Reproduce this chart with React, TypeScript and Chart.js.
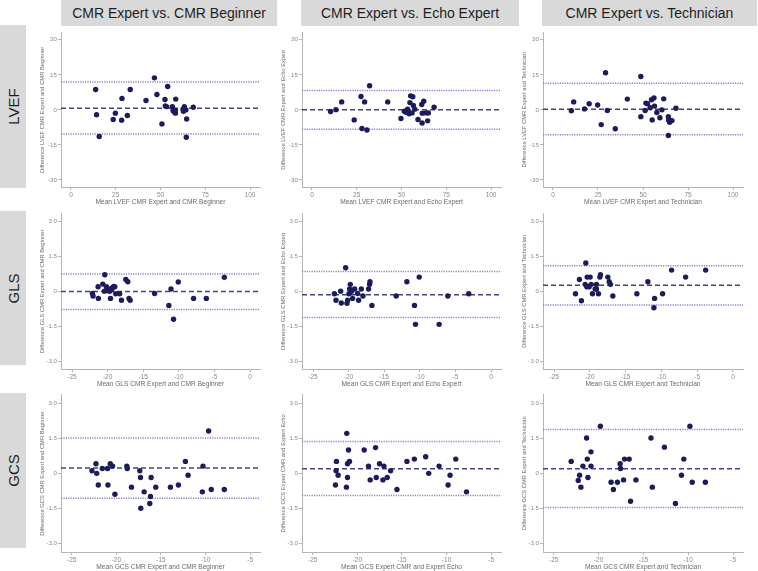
import React, { useEffect, useRef } from "react";
import { Chart, registerables } from "chart.js";
Chart.register(...registerables);

const FONT = "'Liberation Sans', Arial, sans-serif";

const columnTitles = ["CMR Expert vs. CMR Beginner", "CMR Expert vs. Echo Expert", "CMR Expert vs. Technician"];
const rowTitles = ["LVEF", "GLS", "GCS"];

// Axis ticks
const lvefTicksX = [0, 25, 50, 75, 100];
const lvefTicksY = [-30, -15, 0, 15, 30];
const lvefTickLabelsY = ["-30", "-15", "0", "15", "30"];
const glsTicksX = [-25, -20, -15, -10, -5, 0];
const gcsTicksX = [-25, -20, -15, -10, -5];
const strainTicksY = [-3, -1.5, 0, 1.5, 3];
const strainTickLabelsY = ["-3.0", "-1.5", "0", "1.5", "3.0"];

// LVEF – CMR Beginner
const lvefBeginnerMean = [13.8, 14.3, 15.8, 23.6, 24.8, 28.5, 28.3, 31.5, 33.1, 41.9, 46.6, 48.0, 50.8, 52.5, 52.7, 53.4, 54.0, 56.6, 57.0, 57.5, 58.3, 58.3, 58.5, 62.6, 63.3, 63.5, 64.2, 64.6, 64.4, 68.3, 62.8];
const lvefBeginnerDiff = [8.7, -2.1, -11.4, -4.1, -1.4, 4.9, -4.4, -2.4, 8.7, 4.0, 13.7, 6.6, -6.0, 4.4, 1.7, 1.4, 10.0, 1.3, -0.3, -0.7, -1.4, -0.3, 4.6, 0.3, 1.3, 0.0, 0.0, -3.9, -11.7, 1.1, -0.6];
const lvefBeginnerLimits = [0.7, 11.9, -10.3];

// LVEF – Echo Expert
const lvefEchoMean = [10.4, 13.4, 16.6, 23.6, 27.4, 27.9, 29.4, 30.7, 32.2, 42.3, 49.7, 51.6, 52.5, 53.4, 53.8, 54.2, 54.7, 55.1, 55.9, 56.3, 56.6, 57.4, 59.2, 61.3, 61.6, 62.4, 61.5, 63.7, 64.6, 65.0, 68.2];
const lvefEchoDiff = [-0.7, 0.1, 3.4, -4.3, 5.7, -8.0, 3.4, -8.6, 10.3, 3.4, -3.7, -0.6, -1.0, 0.3, -1.0, -1.7, 3.1, 6.0, -1.3, 5.6, 1.9, 0.3, -4.1, 2.3, -1.4, 3.7, -5.6, -1.3, -4.7, -1.3, 1.1];
const lvefEchoLimits = [0.0, 8.3, -8.3];

// LVEF – Technician
const lvefTechMean = [10.2, 11.5, 17.5, 20.1, 24.8, 26.8, 29.2, 30.2, 34.6, 41.3, 48.8, 48.8, 51.2, 51.6, 52.5, 54.0, 54.7, 55.1, 56.1, 56.4, 57.7, 59.4, 60.5, 61.5, 64.1, 64.1, 64.2, 64.8, 65.2, 66.1, 68.3];
const lvefTechDiff = [-0.4, 3.4, 0.4, 2.6, 2.1, -6.3, 15.9, -0.3, -8.1, 4.6, -2.9, 14.3, -0.3, 2.9, 2.6, 0.9, 4.3, -4.3, 5.1, 1.6, -1.1, -3.4, 0.0, 4.7, -2.9, -11.0, -4.3, -5.3, -4.6, -4.6, 0.7];
const lvefTechLimits = [0.3, 11.4, -10.7];

// GLS – CMR Beginner
const glsBeginnerMean = [-22.14, -22.05, -21.34, -21.3, -20.68, -20.4, -20.45, -20.17, -19.98, -19.84, -19.7, -19.6, -19.4, -19.3, -19.14, -19.0, -18.86, -18.3, -18.06, -17.45, -17.17, -17.0, -16.84, -13.4, -11.4, -11.1, -10.74, -10.08, -7.93, -6.14, -3.61];
const glsBeginnerDiff = [-0.09, -0.2, 0.2, -0.3, 0.31, 0.71, 0.01, 0.2, 0.03, 0.1, 0.0, -0.3, 0.1, 0.17, 0.21, 0.2, -0.1, -0.1, -0.38, 0.51, 0.41, -0.3, -0.38, -0.09, -0.6, 0.1, -1.19, 0.4, -0.3, -0.3, 0.6];
const glsBeginnerLimits = [-0.01, 0.74, -0.78];

// GLS – Echo Expert
const glsEchoMean = [-22.0, -21.78, -21.12, -21.03, -20.42, -20.23, -20.14, -19.95, -19.86, -19.77, -19.58, -19.44, -19.16, -18.74, -18.6, -18.22, -17.99, -17.2, -17.06, -17.0, -16.73, -13.32, -11.82, -10.75, -10.61, -10.09, -7.29, -6.07, -3.13];
const glsEchoDiff = [-0.1, -0.38, 0.01, -0.5, 1.01, -0.51, -0.38, -0.1, 0.1, 0.3, 0.0, -0.3, 0.1, -0.09, -0.38, 0.1, -0.2, 0.1, 0.3, 0.41, -0.6, -0.2, 0.41, -0.6, -1.41, 0.61, -1.41, -0.2, -0.1];
const glsEchoLimits = [-0.14, 0.85, -1.12];

// GLS – Technician
const glsTechMean = [-22.01, -21.46, -21.18, -20.66, -20.57, -20.43, -20.38, -20.1, -19.96, -19.82, -19.64, -19.26, -19.08, -19.08, -18.8, -18.61, -18.52, -17.49, -17.3, -17.12, -16.79, -13.43, -11.89, -11.05, -10.96, -9.84, -8.58, -6.62, -3.82];
const glsTechDiff = [-0.1, 0.51, -0.4, 0.3, 1.21, 0.2, 0.61, 0.2, 0.61, 0.3, -0.1, 0.1, 0.3, 0.1, -0.1, 0.61, 0.71, 0.61, 0.41, 0.3, -0.2, -0.1, 0.41, -0.7, -0.3, -0.1, 0.91, 0.61, 0.91];
const glsTechLimits = [0.26, 1.1, -0.58];

// GCS – CMR Beginner
const gcsBeginnerMean = [-22.73, -22.28, -22.2, -22.02, -21.57, -20.98, -20.94, -20.68, -20.42, -20.16, -18.82, -18.78, -18.3, -17.37, -17.29, -17.26, -16.88, -16.25, -16.17, -16.1, -15.58, -13.94, -13.04, -12.26, -11.96, -10.36, -10.29, -9.66, -9.36, -7.9];
const gcsBeginnerDiff = [0.11, 0.41, 0.0, -0.5, 0.21, 0.21, -0.5, 0.41, 0.31, -0.89, 0.31, 0.21, -0.59, 0.11, -0.18, -1.49, -0.79, -1.29, -0.99, -0.18, -0.59, -0.59, -0.5, 0.51, -0.08, -0.79, 0.31, 1.81, -0.69, -0.69];
const gcsBeginnerLimits = [0.23, 1.51, -1.06];

// GCS – Echo Expert
const gcsEchoMean = [-22.45, -22.38, -22.34, -22.15, -21.22, -21.18, -21.1, -21.1, -20.99, -20.88, -19.23, -18.75, -18.56, -17.96, -17.88, -17.51, -17.13, -17.02, -16.65, -16.27, -15.56, -14.44, -13.61, -12.34, -12.0, -10.84, -9.83, -9.61, -8.97, -7.77];
const gcsEchoDiff = [-0.5, 0.11, 0.51, -0.08, -0.59, 1.71, -0.18, 0.41, 1.0, 0.51, 1.0, 0.31, -0.28, 1.1, -0.18, 0.41, -0.28, 0.31, -0.18, 0.11, -0.69, 0.51, 0.61, 0.71, 0.0, 0.31, -0.5, -0.08, 0.61, -0.79];
const gcsEchoLimits = [0.2, 1.36, -0.95];

// GCS – Technician
const gcsTechMean = [-23.06, -22.27, -22.12, -21.97, -21.75, -21.34, -21.26, -21.19, -20.85, -20.85, -19.8, -18.61, -18.35, -17.9, -17.6, -17.56, -17.22, -17.11, -16.59, -16.44, -15.84, -14.16, -14.01, -12.66, -11.43, -10.76, -10.5, -9.82, -9.56, -8.1];
const gcsTechDiff = [0.51, -0.3, -0.08, -0.59, 0.31, 1.51, 0.61, -0.18, 0.92, 0.31, 2.01, -0.38, -0.69, -0.38, 0.41, 0.21, -0.28, 0.61, 0.61, -1.19, -0.28, 1.51, -0.59, 1.12, -1.29, -0.08, 0.61, 2.01, -0.38, -0.38];
const gcsTechLimits = [0.2, 1.87, -1.46];

const rowAxes = [
  { xMin: -5.55, xMax: 105.55, yMin: -33, yMax: 33, xTicks: lvefTicksX, yTicks: lvefTicksY, yLabels: lvefTickLabelsY },
  { xMin: -26.55, xMax: 1.4, yMin: -3.32, yMax: 3.32, xTicks: glsTicksX, yTicks: strainTicksY, yLabels: strainTickLabelsY },
  { xMin: -26.2, xMax: -3.9, yMin: -3.36, yMax: 3.36, xTicks: gcsTicksX, yTicks: strainTicksY, yLabels: strainTickLabelsY },
];

const panels = [
  { row: 0, col: 0, xs: lvefBeginnerMean, ys: lvefBeginnerDiff, lim: lvefBeginnerLimits, xTitle: "Mean LVEF CMR Expert and CMR Beginner", yTitle: "Difference LVEF CMR Expert and CMR Beginner" },
  { row: 0, col: 1, xs: lvefEchoMean, ys: lvefEchoDiff, lim: lvefEchoLimits, xTitle: "Mean LVEF CMR Expert and Echo Expert", yTitle: "Difference LVEF CMR Expert and Echo Expert" },
  { row: 0, col: 2, xs: lvefTechMean, ys: lvefTechDiff, lim: lvefTechLimits, xTitle: "Mean LVEF CMR Expert and Technician", yTitle: "Difference LVEF CMR Expert and Technician" },
  { row: 1, col: 0, xs: glsBeginnerMean, ys: glsBeginnerDiff, lim: glsBeginnerLimits, xTitle: "Mean GLS CMR Expert and CMR Beginner", yTitle: "Difference GLS CMR Expert and CMR Beginner" },
  { row: 1, col: 1, xs: glsEchoMean, ys: glsEchoDiff, lim: glsEchoLimits, xTitle: "Mean GLS CMR Expert and Echo Expert", yTitle: "Difference GLS CMR Expert and Echo Expert" },
  { row: 1, col: 2, xs: glsTechMean, ys: glsTechDiff, lim: glsTechLimits, xTitle: "Mean GLS CMR Expert and Technician", yTitle: "Difference GLS CMR Expert and Technician" },
  { row: 2, col: 0, xs: gcsBeginnerMean, ys: gcsBeginnerDiff, lim: gcsBeginnerLimits, xTitle: "Mean GCS CMR Expert and CMR Beginner", yTitle: "Difference GCS CMR Expert and CMR Beginner" },
  { row: 2, col: 1, xs: gcsEchoMean, ys: gcsEchoDiff, lim: gcsEchoLimits, xTitle: "Mean GCS Expert CMR and Expert Echo", yTitle: "Difference GCS Expert CMR and Expert Echo" },
  { row: 2, col: 2, xs: gcsTechMean, ys: gcsTechDiff, lim: gcsTechLimits, xTitle: "Mean GCS CMR Expert and Technician", yTitle: "Difference GCS CMR Expert and Technician" },
];

// layout geometry (pixels)
const plotLefts = [61, 302, 543];
const plotWidths = [199, 199, 200];
const plotTops = [32, 213, 394];
const plotHeights = [155, 156, 158];
const headerBoxes = [[61, 277], [301, 519], [542, 757]];
const rowBoxes = [[25, 188], [211, 365], [393, 548]];

const Y_AXIS_W = 22;
const X_AXIS_H = 19;
const PAD_TOP = 4;
const PAD_RIGHT = 4;

const pointColor = "#1c1c5c";
const meanColor = "#40428a";
const limitColor = "#8084cc";
const axisColor = "#b5b5b5";
const tickColor = "#8a8a8a";
const titleColor = "#6a6a6a";

function Panel({ p }: { p: any }) {
  const ref = useRef<HTMLCanvasElement>(null);
  const ax = rowAxes[p.row];
  const w = Y_AXIS_W + plotWidths[p.col] + PAD_RIGHT;
  const h = PAD_TOP + plotHeights[p.row] + X_AXIS_H;
  useEffect(() => {
    const line = (y: number) => [{ x: ax.xMin, y }, { x: ax.xMax, y }];
    const chart = new Chart(ref.current!, {
      type: "scatter",
      data: {
        datasets: [
          {
            type: "scatter",
            data: p.xs.map((x: number, i: number) => ({ x, y: p.ys[i] })),
            backgroundColor: pointColor,
            borderColor: pointColor,
            borderWidth: 0,
            pointRadius: 2.7,
            order: 0,
          } as any,
          { type: "line", data: line(p.lim[0]), borderColor: meanColor, borderWidth: 1.5, borderDash: [5, 3], pointRadius: 0, showLine: true, order: 1 } as any,
          { type: "line", data: line(p.lim[1]), borderColor: limitColor, borderWidth: 1.5, borderDash: [1.2, 1.2], pointRadius: 0, showLine: true, order: 2 } as any,
          { type: "line", data: line(p.lim[2]), borderColor: limitColor, borderWidth: 1.5, borderDash: [1.2, 1.2], pointRadius: 0, showLine: true, order: 2 } as any,
        ],
      },
      options: {
        animation: false,
        responsive: false,
        maintainAspectRatio: false,
        events: [],
        layout: { padding: { top: PAD_TOP, right: PAD_RIGHT, left: 0, bottom: 0 } },
        plugins: { legend: { display: false }, tooltip: { enabled: false } },
        scales: {
          x: {
            type: "linear",
            min: ax.xMin,
            max: ax.xMax,
            afterBuildTicks: (s: any) => {
              s.ticks = ax.xTicks.map((v: number) => ({ value: v }));
            },
            afterFit: (s: any) => {
              s.height = X_AXIS_H;
            },
            grid: { display: true, drawOnChartArea: false, drawTicks: true, tickLength: 3, color: axisColor },
            border: { display: true, color: axisColor, width: 1 },
            ticks: { color: tickColor, font: { size: 6.5, family: FONT }, padding: 1, maxRotation: 0, autoSkip: false },
            title: { display: true, text: p.xTitle, color: titleColor, font: { size: 6.6, family: FONT }, padding: { top: 0, bottom: 0 } },
          },
          y: {
            type: "linear",
            min: ax.yMin,
            max: ax.yMax,
            afterBuildTicks: (s: any) => {
              s.ticks = ax.yTicks.map((v: number) => ({ value: v }));
            },
            afterFit: (s: any) => {
              s.width = Y_AXIS_W;
            },
            grid: { display: true, drawOnChartArea: false, drawTicks: true, tickLength: 3, color: axisColor },
            border: { display: true, color: axisColor, width: 1 },
            ticks: {
              color: tickColor,
              font: { size: 6.2, family: FONT },
              padding: 1,
              autoSkip: false,
              callback: (v: any) => {
                const i = ax.yTicks.indexOf(Number(v));
                return i >= 0 ? ax.yLabels[i] : "";
              },
            },
            title: { display: true, text: p.yTitle, color: titleColor, font: { size: 5.8, family: FONT }, padding: { top: 0, bottom: 0 } },
          },
        },
      },
    });
    return () => chart.destroy();
  }, []);
  return (
    <canvas
      ref={ref}
      width={w}
      height={h}
      style={{ position: "absolute", left: plotLefts[p.col] - Y_AXIS_W, top: plotTops[p.row] - PAD_TOP, width: w, height: h }}
    />
  );
}

export default function App() {
  return (
    <div style={{ position: "fixed", left: 0, top: 0, width: 758, height: 571, background: "#ffffff", overflow: "hidden", fontFamily: FONT }}>
      {columnTitles.map((t, i) => (
        <div
          key={t}
          style={{
            position: "absolute",
            left: headerBoxes[i][0],
            top: 0,
            width: headerBoxes[i][1] - headerBoxes[i][0],
            height: 26,
            background: "#d9d9d9",
            color: "#1e1e1e",
            fontSize: 14,
            lineHeight: "27px",
            textAlign: "center",
          }}
        >
          {t}
        </div>
      ))}
      {rowTitles.map((t, i) => (
        <div
          key={t}
          style={{
            position: "absolute",
            left: 0,
            top: rowBoxes[i][0],
            width: 26,
            height: rowBoxes[i][1] - rowBoxes[i][0],
            background: "#d9d9d9",
            color: "#1e1e1e",
            fontSize: 15,
            display: "flex",
            alignItems: "center",
            justifyContent: "center",
          }}
        >
          <span style={{ transform: "rotate(-90deg)", whiteSpace: "nowrap", display: "inline-block" }}>{t}</span>
        </div>
      ))}
      {panels.map((p) => (
        <Panel key={`${p.row}-${p.col}`} p={p} />
      ))}
    </div>
  );
}
